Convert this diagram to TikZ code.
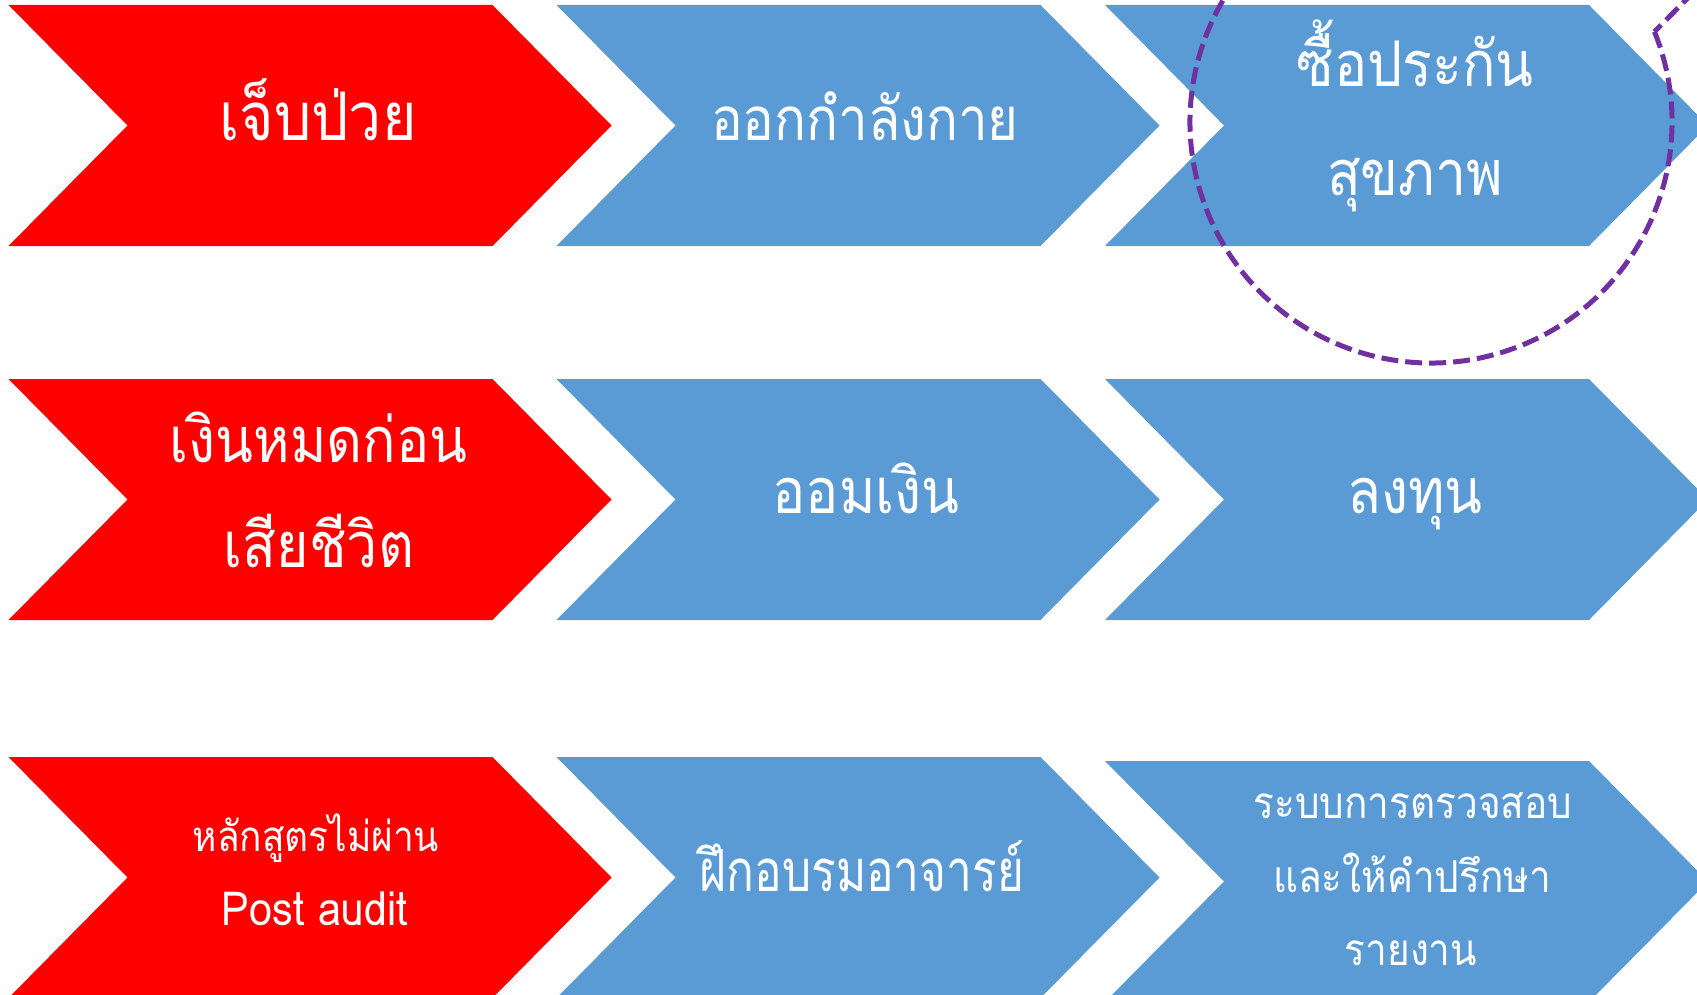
\documentclass[tikz,border=0pt]{standalone}
\usepackage{graphicx}
\usepackage{fontspec}
\newfontfamily\thai[Script=Thai,FakeStretch=0.88]{Loma}
\definecolor{cred}{HTML}{FF0000}
\definecolor{cblue}{HTML}{5B9BD5}
\definecolor{cpurple}{HTML}{7030A0}
\tikzset{
  chev/.style={fill=#1, draw=none},
  txt/.style={text=white, anchor=base, inner sep=0pt, font=\thai\fontsize{#1}{#1}\selectfont},
  bigtxt/.style={txt=63},
  smalltxt/.style={txt=44},
  callout/.style={draw=cpurple, line width=5pt, dash pattern=on 17pt off 7pt}
}
\newcommand{\chevshape}[3]{% left, top, colour
  \fill[chev=#3] (#1,#2) -- ({#1+484},#2) -- ({#1+603},{#2+120.5}) -- ({#1+484},{#2+241}) -- (#1,{#2+241}) -- ({#1+119},{#2+120.5}) -- cycle;}
\begin{document}
\begin{tikzpicture}[x=1pt,y=-1pt]
\useasboundingbox (0,0) rectangle (1697,995);
\clip (0,0) rectangle (1697,995);
% row 1
\chevshape{8.5}{5}{cred}
\chevshape{556.5}{5}{cblue}
\chevshape{1105}{5}{cblue}
% row 2
\chevshape{8.5}{379}{cred}
\chevshape{556.5}{379}{cblue}
\chevshape{1105}{379}{cblue}
% row 3
\chevshape{8.5}{757}{cred}
\chevshape{556.5}{757}{cblue}
\chevshape{1105}{761}{cblue}
% texts
\node[txt=67] (a1) at (318,141) {เจ็บป่วย};
\node[txt=60] (a2) at (865,141) {ออกกำลังกาย};
\node[bigtxt] (a3a) at (1415,87) {ซื้อประกัน};
\node[bigtxt] (a3b) at (1415,196) {สุขภาพ};
\node[bigtxt] (b1a) at (318.5,462) {เงินหมดก่อน};
\node[bigtxt] (b1b) at (319,567) {เสียชีวิต};
\node[bigtxt] (b2) at (866,513) {ออมเงิน};
\node[bigtxt] (b3) at (1415,513) {ลงทุน};
\node[txt=42] (c1a) at (316,851) {หลักสูตรไม่ผ่าน};
\node[txt=47] (c1b) at (315,925) {Post audit};
\node[txt=58] (c2) at (862,891) {\scalebox{0.9}[1]{ฝึกอบรมอาจารย์}};
\node[smalltxt] (c3a) at (1413,818) {ระบบการตรวจสอบ};
\node[smalltxt] (c3b) at (1412,892) {และให้คำปรึกษา};
\node[smalltxt] (c3c) at (1411,965) {รายงาน};
% dashed callout
\coordinate (cc) at (1431,122);
\coordinate (kink) at ({1431+241*cos(-22)},{122+241*sin(-22)});
\coordinate (tail) at (1760,-75);
\draw[callout] (kink) arc[start angle=-22, end angle=300, radius=241] -- (tail) -- cycle;
\end{tikzpicture}
\end{document}
